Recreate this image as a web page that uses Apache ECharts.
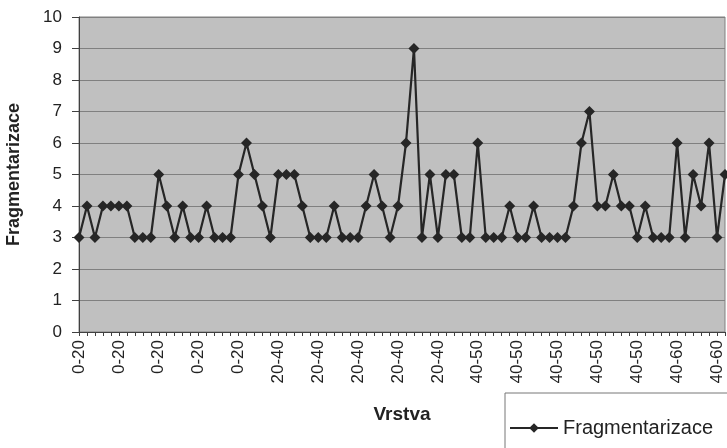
<!DOCTYPE html>
<html><head><meta charset="utf-8">
<script src="https://cdn.jsdelivr.net/npm/echarts@6/dist/echarts.min.js"></script>
<style>html,body{margin:0;padding:0;background:#fff}#c{width:727px;height:448px}</style>
</head><body><div id="c"></div>
<script>
const categories = [
  "0-20","0-20","0-20","0-20","0-20","0-20","0-20","0-20","0-20","0-20",
  "0-20","0-20","0-20","0-20","0-20","0-20","0-20","0-20","0-20","0-20",
  "0-20","0-20","0-20","20-40","20-40","20-40","20-40","20-40","20-40","20-40",
  "20-40","20-40","20-40","20-40","20-40","20-40","20-40","20-40","20-40","20-40",
  "20-40","20-40","20-40","20-40","20-40","20-40","20-40","20-40","40-50","40-50",
  "40-50","40-50","40-50","40-50","40-50","40-50","40-50","40-50","40-50","40-50",
  "40-50","40-50","40-50","40-50","40-50","40-50","40-50","40-50","40-50","40-50",
  "40-50","40-50","40-50","40-60","40-60","40-60","40-60","40-60","40-60","40-60",
  "40-60","40-60"
];
const fragmentarizace = [
  3,4,3,4,4,4,4,3,3,3,
  5,4,3,4,3,3,4,3,3,3,
  5,6,5,4,3,5,5,5,4,3,
  3,3,4,3,3,3,4,5,4,3,
  4,6,9,3,5,3,5,5,3,3,
  6,3,3,3,4,3,3,4,3,3,
  3,3,4,6,7,4,4,5,4,4,
  3,4,3,3,3,6,3,5,4,6,
  3,5
];
const seriesName = "Fragmentarizace";
const xTitle = "Vrstva";
const yTitle = "Fragmentarizace";
const yMin = 0, yMax = 10, yStep = 1;

const font = "'Liberation Sans', Arial, sans-serif";
const chart = echarts.init(document.getElementById('c'), null, {renderer: 'canvas'});
chart.setOption({
  animation: false,
  backgroundColor: '#ffffff',
  textStyle: {fontFamily: font, color: '#222'},
  grid: {
    left: 79, right: 2, top: 17, bottom: 116,
    outerBoundsMode: 'none',
    containLabel: false,
    show: true, backgroundColor: '#c0c0c0', borderColor: '#808080', borderWidth: 1
  },
  legend: {
    left: 505, top: 393,
    itemWidth: 48, itemHeight: 12,
    itemGap: 6,
    backgroundColor: '#fff', borderColor: '#777', borderWidth: 1,
    padding: [25, 40, 30, 4],
    textStyle: {fontFamily: font, fontSize: 20, color: '#222'},
    data: [seriesName]
  },
  xAxis: {
    type: 'category',
    data: categories,
    boundaryGap: false,
    name: xTitle,
    nameLocation: 'middle',
    nameGap: 73,
    nameMoveOverlap: false,
    nameTextStyle: {fontFamily: font, fontSize: 19, fontWeight: 'bold', color: '#222'},
    axisLine: {lineStyle: {color: '#404040', width: 1}},
    axisTick: {show: true, interval: 0, length: 4, lineStyle: {color: '#404040'}},
    axisLabel: {interval: 4, rotate: 90, margin: 8, fontSize: 17, color: '#222', fontFamily: font},
    splitLine: {show: false}
  },
  yAxis: {
    type: 'value',
    min: yMin, max: yMax, interval: yStep,
    name: yTitle,
    nameLocation: 'middle',
    nameGap: 56,
    nameMoveOverlap: false,
    nameRotate: 90,
    nameTextStyle: {fontFamily: font, fontSize: 18, fontWeight: 'bold', color: '#222'},
    axisLine: {show: true, lineStyle: {color: '#404040', width: 1}},
    axisTick: {show: true, length: 7, lineStyle: {color: '#404040'}},
    axisLabel: {margin: 17, fontSize: 17, color: '#222', fontFamily: font},
    splitLine: {show: true, lineStyle: {color: '#808080', width: 1}}
  },
  series: [{
    name: seriesName,
    type: 'line',
    data: fragmentarizace,
    symbol: 'diamond',
    symbolSize: 11,
    showAllSymbol: true,
    lineStyle: {color: '#262626', width: 2.2},
    itemStyle: {color: '#262626'}
  }]
});
</script>
</body></html>
